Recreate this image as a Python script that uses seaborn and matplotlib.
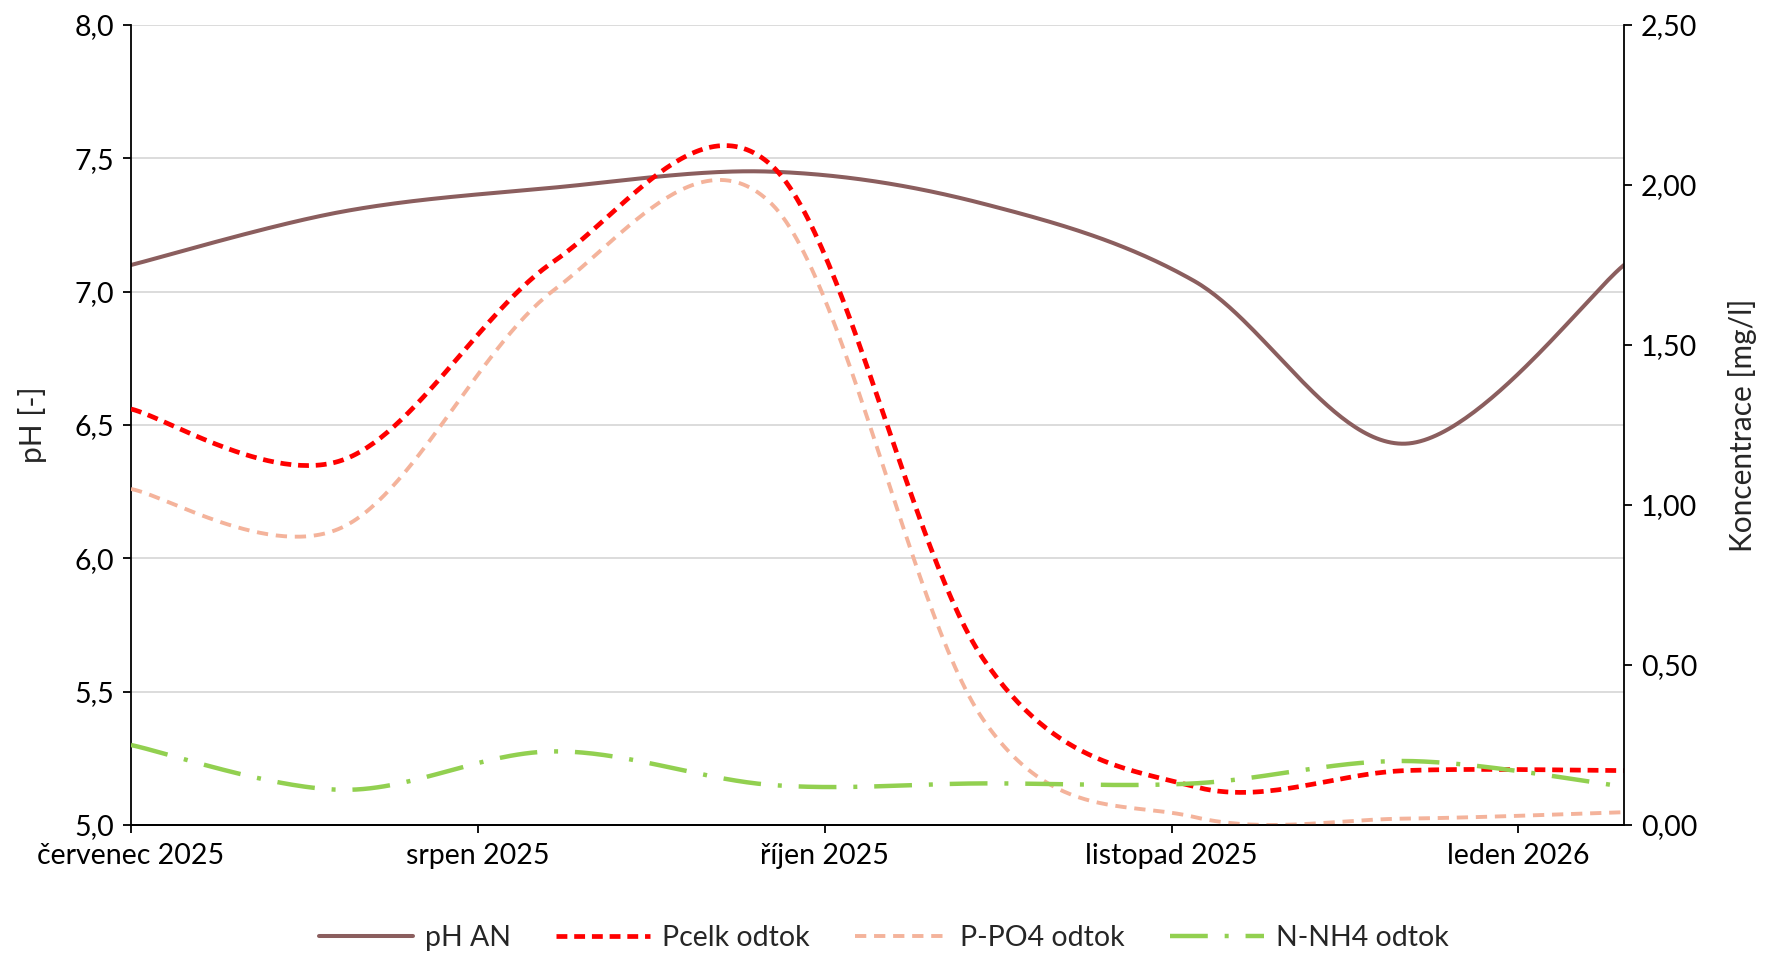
import numpy as np
import pandas as pd
import matplotlib
matplotlib.use("Agg")
import matplotlib.pyplot as plt
import seaborn as sns

# ---- data ----
dates = ["2025-07-01", "2025-07-29", "2025-08-26", "2025-09-24",
         "2025-10-22", "2025-11-19", "2025-12-17", "2026-01-15"]
ph_an = [7.10, 7.30, 7.39, 7.45, 7.33, 7.04, 6.43, 7.10]
pcelk = [1.30, 1.14, 1.76, 2.06, 0.52, 0.12, 0.17, 0.17]
ppo4 = [1.05, 0.93, 1.67, 1.94, 0.33, 0.025, 0.02, 0.04]
nnh4 = [0.25, 0.11, 0.23, 0.125, 0.13, 0.13, 0.20, 0.12]
tick_dates = ["2025-07-01", "2025-08-16", "2025-10-01", "2025-11-16", "2026-01-01"]
tick_labels = ["červenec 2025", "srpen 2025", "říjen 2025", "listopad 2025", "leden 2026"]
ph_ticks = [5.0, 5.5, 6.0, 6.5, 7.0, 7.5, 8.0]
conc_ticks = [0.0, 0.5, 1.0, 1.5, 2.0, 2.5]

start = pd.Timestamp(dates[0])
days = np.array([(pd.Timestamp(d) - start).days for d in dates], dtype=float)
tick_days = [(pd.Timestamp(d) - start).days for d in tick_dates]


def excel_smooth(x, y, n=60):
    """Excel-style smoothed line (Bezier through the points)."""
    P = np.column_stack([x, y]).astype(float)
    N = len(P)
    xs, ys = [], []
    for i in range(N - 1):
        p0 = P[max(i - 1, 0)]
        p1 = P[i]
        p2 = P[i + 1]
        p3 = P[min(i + 2, N - 1)]
        c1 = p1 + (p2 - p0) / 6.0
        c2 = p2 - (p3 - p1) / 6.0
        t = np.linspace(0, 1, n, endpoint=(i == N - 2))[:, None]
        b = ((1 - t) ** 3) * p1 + 3 * ((1 - t) ** 2) * t * c1 + 3 * (1 - t) * t ** 2 * c2 + t ** 3 * p2
        xs.append(b[:, 0])
        ys.append(b[:, 1])
    return np.concatenate(xs), np.concatenate(ys)


sns.set_theme(style="white")
plt.rcParams['font.family'] = ['Lato', 'DejaVu Sans']

W, H = 1768, 956
fig = plt.figure(figsize=(W / 100, H / 100), dpi=100)
ax = fig.add_axes([131 / W, 1 - 825 / H, (1624 - 131) / W, (825 - 25) / H])
ax2 = ax.twinx()

fs = 20.5

# pH on primary axis
sx, sy = excel_smooth(days, ph_an)
sns.lineplot(x=sx, y=sy, ax=ax, sort=False, estimator=None, color="#8B5E5E",
             linewidth=2.9, label="pH AN")

series = [
    ("Pcelk odtok", pcelk, "#FF0000", 3.4, (0, (2.3, 1.45))),
    ("P-PO4 odtok", ppo4, "#F4B39B", 2.8, (0, (2.9, 2.0))),
    ("N-NH4 odtok", nnh4, "#92D050", 3.2, (0, (8.5, 3.8, 0.9, 3.8))),
]
for name, vals, col, lw, ls in series:
    sx, sy = excel_smooth(days, vals)
    sns.lineplot(x=sx, y=sy, ax=ax2, sort=False, estimator=None, color=col,
                 linewidth=lw, label=name)
    ax2.lines[-1].set_linestyle(ls)

ax.set_ylim(5.0, 8.0)
ax2.set_ylim(0.0, 2.5)
ax.set_xlim(days[0], days[-1])

ax.set_yticks(ph_ticks)
ax.set_yticklabels([f"{v:.1f}".replace(".", ",") for v in ph_ticks], fontsize=fs)
ax2.set_yticks(conc_ticks)
ax2.set_yticklabels([f"{v:.2f}".replace(".", ",") for v in conc_ticks], fontsize=fs)
ax.set_xticks(tick_days)
ax.set_xticklabels(tick_labels, fontsize=fs)

ax.set_ylabel("pH [-]", fontsize=21.5, labelpad=20)
ax2.set_ylabel("Koncentrace [mg/l]", fontsize=21.5, labelpad=22)
ax.set_xlabel("")

# gridlines
for v in ph_ticks[1:]:
    ax.axhline(v, color="#D9D9D9", linewidth=1.3, zorder=0)
ax.set_axisbelow(True)

for a in (ax, ax2):
    for s in a.spines.values():
        s.set_color("black")
        s.set_linewidth(1.3)
    a.spines["top"].set_visible(False)
    a.tick_params(direction="out", length=6, width=1.3, colors="black", labelsize=fs)
ax.tick_params(axis="y", left=True, right=False, pad=6)
ax.tick_params(axis="x", bottom=True, pad=7)
ax2.tick_params(axis="y", right=True, left=False, pad=6)
ax2.spines["left"].set_visible(False)
ax.spines["right"].set_visible(False)

# combined legend
h1, l1 = ax.get_legend_handles_labels()
h2, l2 = ax2.get_legend_handles_labels()
if ax.get_legend():
    ax.get_legend().remove()
if ax2.get_legend():
    ax2.get_legend().remove()
fig.legend(h1 + h2, l1 + l2, loc="center", bbox_to_anchor=(0.5, 1 - 938 / H),
           ncol=4, frameon=False, fontsize=fs, handlelength=3.3,
           handletextpad=0.4, columnspacing=1.6)

fig.savefig("out.png", dpi=100)
